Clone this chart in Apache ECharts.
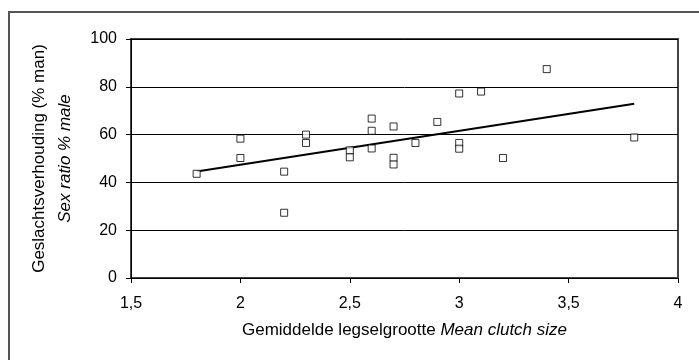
<!DOCTYPE html>
<html>
<head>
<meta charset="utf-8">
<script src="https://cdn.jsdelivr.net/npm/echarts@6/dist/echarts.min.js"></script>
<style>
  html, body { margin: 0; padding: 0; background: #fff; }
  #chart { width: 699px; height: 360px; }
</style>
</head>
<body>
<div id="chart"></div>
<script>
// clutch size (x) and sex ratio % male (y)
var clutchSize = [1.8, 2, 2, 2.2, 2.2, 2.3, 2.3, 2.5, 2.5, 2.6, 2.6, 2.6, 2.7, 2.7, 2.7, 2.8, 2.9, 3, 3, 3, 3.1, 3.2, 3.4, 3.8]
var sexRatio = [43.6, 58.3, 50.2, 44.5, 27.3, 60, 56.5, 53.4, 50.5, 66.7, 61.6, 54.2, 63.4, 50.3, 47.5, 56.5, 65.3, 77.2, 56.5, 54.1, 78, 50.2, 87.4, 58.8]
// trend line end points
var trendX = [1.8, 3.8]
var trendY = [44.6, 72.9]

var points = clutchSize.map(function(x, i) { return [x, sexRatio[i]] })
var trend = trendX.map(function(x, i) { return [x, trendY[i]] })

var font = '"Liberation Sans", Arial, sans-serif'
var chart = echarts.init(document.getElementById('chart'))
chart.setOption({
  animation: false,
  backgroundColor: '#fff',
  textStyle: { fontFamily: font },
  // outer chart frame, right and bottom sides fall outside the picture
  graphic: [{
    type: 'rect',
    shape: { x: 9, y: 12, width: 800, height: 500 },
    style: { fill: 'none', stroke: '#555', lineWidth: 2 },
    silent: true
  }],
  grid: {
    left: 131,
    right: 21,
    top: 39,
    bottom: 82,
    show: true,
    borderColor: '#444',
    borderWidth: 2
  },
  xAxis: {
    type: 'value',
    min: 1.5,
    max: 4,
    interval: 0.5,
    name: '{n|Gemiddelde legselgrootte }{i|Mean clutch size}',
    nameLocation: 'middle',
    nameGap: 44,
    nameTextStyle: {
      rich: {
        n: { fontSize: 17, color: '#000', fontFamily: font },
        i: { fontSize: 17, color: '#000', fontStyle: 'italic', fontFamily: font }
      }
    },
    axisLine: { lineStyle: { color: '#000', width: 1 } },
    axisTick: { show: true, length: 5, lineStyle: { color: '#000' } },
    axisLabel: {
      color: '#000',
      fontSize: 16,
      margin: 18,
      formatter: function(v) { return String(v).replace('.', ',') }
    },
    splitLine: { show: false }
  },
  yAxis: {
    type: 'value',
    min: 0,
    max: 100,
    interval: 20,
    name: '{n|Geslachtsverhouding (% man)}\n{i|Sex ratio % male}',
    nameLocation: 'middle',
    nameRotate: 90,
    nameGap: 53,
    nameTextStyle: {
      rich: {
        n: { fontSize: 17, lineHeight: 26, color: '#000', fontFamily: font },
        i: { fontSize: 17, lineHeight: 26, color: '#000', fontStyle: 'italic', fontFamily: font }
      }
    },
    axisLine: { show: true, lineStyle: { color: '#000', width: 1 } },
    axisTick: { show: true, length: 5, lineStyle: { color: '#000' } },
    axisLabel: { color: '#000', fontSize: 16, margin: 14 },
    splitLine: { show: true, lineStyle: { color: '#000', width: 1 } }
  },
  series: [
    {
      type: 'line',
      data: trend,
      symbol: 'none',
      lineStyle: { color: '#000', width: 2 },
      z: 2
    },
    {
      type: 'scatter',
      data: points,
      symbol: 'rect',
      symbolSize: 7,
      itemStyle: { color: '#fff', borderColor: '#000', borderWidth: 1 },
      z: 3
    }
  ]
})
</script>
</body>
</html>
